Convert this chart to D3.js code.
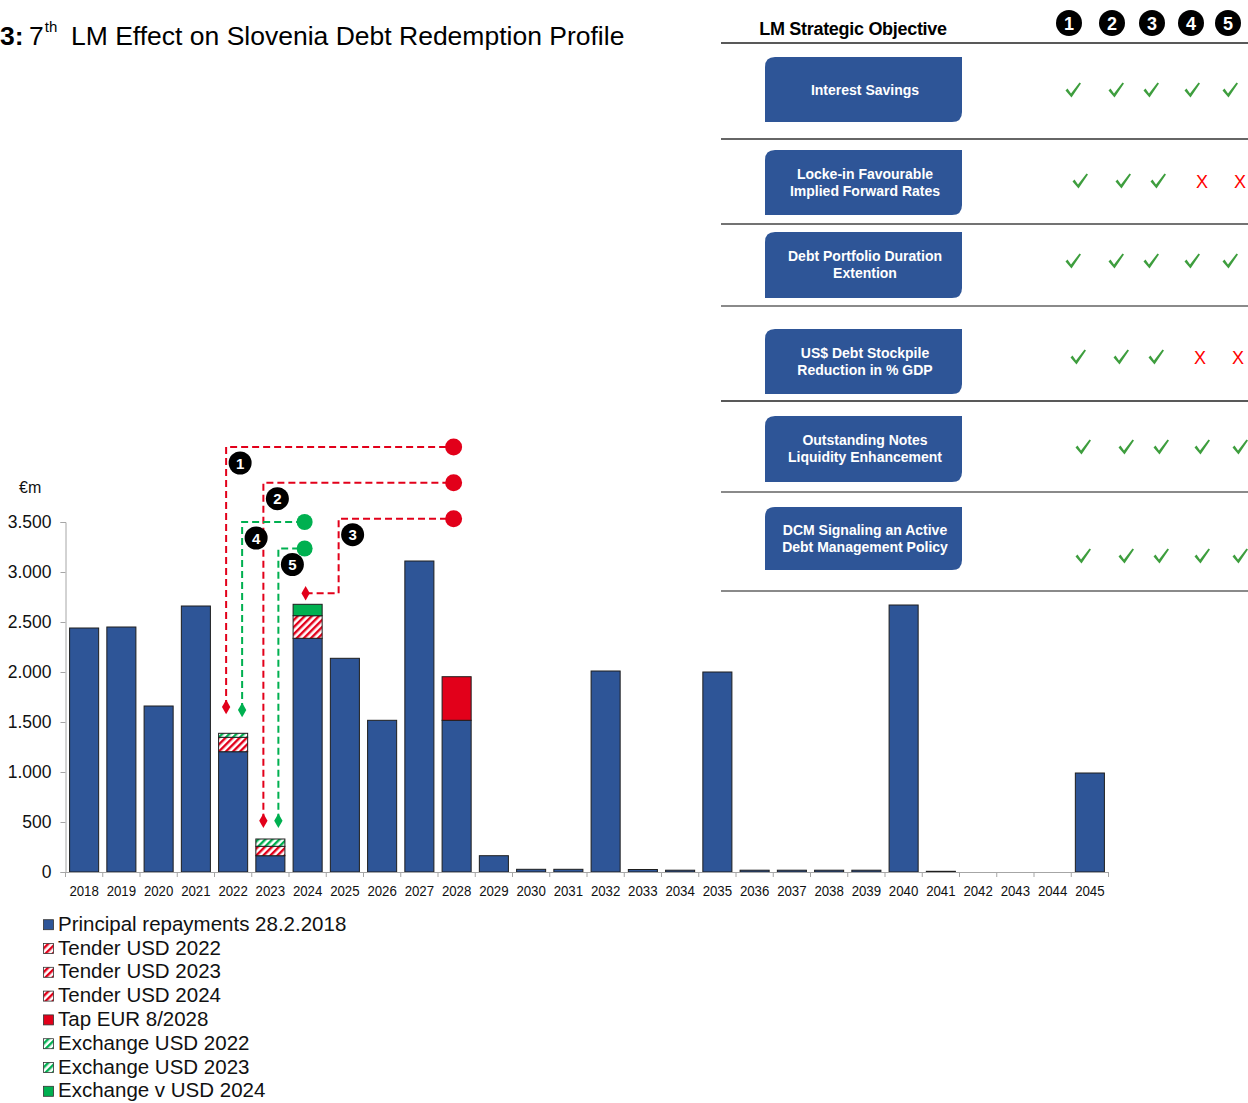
<!DOCTYPE html>
<html>
<head>
<meta charset="utf-8">
<title>7th LM Effect on Slovenia Debt Redemption Profile</title>
<script src="https://d3js.org/d3.v7.min.js"></script>
<style>
  body { margin: 0; background: #fff; }
  svg { display: block; font-family: "Liberation Sans", Arial, sans-serif; }
</style>
</head>
<body>
<svg id="chart"></svg>
<script>
// ---- data (EUR m) ----
var years = ["2018","2019","2020","2021","2022","2023","2024","2025","2026","2027","2028","2029","2030","2031",
             "2032","2033","2034","2035","2036","2037","2038","2039","2040","2041","2042","2043","2044","2045"];
var principal    = [2440,2450,1660,2660,1203,163,2337,2137,1517,3110,1517,163,27,27,2010,25,18,2000,18,18,18,18,2670,7,0,0,0,990];
var tender2022   = [0,0,0,0,144,0,0,0,0,0,0,0,0,0,0,0,0,0,0,0,0,0,0,0,0,0,0,0];
var tender2023   = [0,0,0,0,0,94,0,0,0,0,0,0,0,0,0,0,0,0,0,0,0,0,0,0,0,0,0,0];
var tender2024   = [0,0,0,0,0,0,226,0,0,0,0,0,0,0,0,0,0,0,0,0,0,0,0,0,0,0,0,0];
var tapEur2028   = [0,0,0,0,0,0,0,0,0,0,436,0,0,0,0,0,0,0,0,0,0,0,0,0,0,0,0,0];
var exchange2022 = [0,0,0,0,40,0,0,0,0,0,0,0,0,0,0,0,0,0,0,0,0,0,0,0,0,0,0,0];
var exchange2023 = [0,0,0,0,0,73,0,0,0,0,0,0,0,0,0,0,0,0,0,0,0,0,0,0,0,0,0,0];
var exchange2024 = [0,0,0,0,0,0,114,0,0,0,0,0,0,0,0,0,0,0,0,0,0,0,0,0,0,0,0,0];
var seriesNames  = ["Principal repayments 28.2.2018","Tender USD 2022","Tender USD 2023","Tender USD 2024",
                    "Tap EUR 8/2028","Exchange USD 2022","Exchange USD 2023","Exchange v USD 2024"];
var seriesValues = [principal, tender2022, tender2023, tender2024, tapEur2028, exchange2022, exchange2023, exchange2024];
var yTicks = [0,500,1000,1500,2000,2500,3000,3500];

// LM operations 1..5: from which maturity, to which bond, marker level / connector level
var lmLabels  = ["1","2","3","4","5"];
var lmFrom    = ["2022","2023","2024","2022","2023"];
var lmTo      = ["2028","2028","2028","2024","2024"];
var lmStart   = [1650, 513, 2787, 1620, 513];
var lmLevel   = [4250, 3893, 3533, 3500, 3235];

var objectives = [["Interest Savings"],
                  ["Locke-in Favourable","Implied Forward Rates"],
                  ["Debt Portfolio Duration","Extention"],
                  ["US$ Debt Stockpile","Reduction in % GDP"],
                  ["Outstanding Notes","Liquidity Enhancement"],
                  ["DCM Signaling an Active","Debt Management Policy"]];
var objectiveMet = [[1,1,1,1,1],[1,1,1,0,0],[1,1,1,1,1],[1,1,1,0,0],[1,1,1,1,1],[1,1,1,1,1]];

// ---- layout ----
var W = 1248, H = 1103;
var blue = "#2E5597", red = "#E2001A", green = "#00B050";
var seriesFill = [blue, "url(#hatchRed)", "url(#hatchRed)", "url(#hatchRed)", red, "url(#hatchGreen)", "url(#hatchGreen)", green];

var svg = d3.select("#chart").attr("width", W).attr("height", H);
var defs = svg.append("defs");

function hatch(id, col) {
  var p = defs.append("pattern").attr("id", id)
    .attr("patternUnits", "userSpaceOnUse")
    .attr("width", 5).attr("height", 5)
    .attr("patternTransform", "rotate(45)");
  p.append("rect").attr("width", 5).attr("height", 5).attr("fill", "#fff");
  p.append("rect").attr("width", 2.4).attr("height", 5).attr("fill", col);
}
hatch("hatchRed", red);
hatch("hatchGreen", green);

var x = d3.scaleBand().domain(years).range([65.5, 1108.5]).paddingInner(0.22).paddingOuter(0.11);
var y = d3.scaleLinear().domain([0, 3500]).range([872, 522]);
var cx = function(yr) { return x(yr) + x.bandwidth() / 2; };

// title
var title = svg.append("text").attr("x", 0).attr("y", 45).attr("font-size", 26.5).attr("fill", "#000");
title.append("tspan").attr("font-weight", "bold").text("3:");
title.append("tspan").attr("x", 29).text("7");
title.append("tspan").attr("font-size", 15).attr("dy", -13).attr("dx", 1).text("th");
title.append("tspan").attr("dy", 13).attr("x", 71).text("LM Effect on Slovenia Debt Redemption Profile");

// bars
var stacked = d3.stack()
  .keys(d3.range(seriesValues.length))
  .value(function(i, k) { return seriesValues[k][i]; })(d3.range(years.length));

svg.append("g").selectAll("g")
  .data(stacked)
  .join("g")
  .attr("fill", function(d) { return seriesFill[d.key]; })
  .selectAll("rect")
  .data(function(d) { return d.filter(function(s) { return s[1] - s[0] > 0; }); })
  .join("rect")
  .attr("x", function(s) { return x(years[s.data]); })
  .attr("y", function(s) { return y(s[1]); })
  .attr("width", x.bandwidth())
  .attr("height", function(s) { return y(s[0]) - y(s[1]); })
  .attr("stroke", "#1e1e1e")
  .attr("stroke-width", 1);

// axes
var yAxis = svg.append("g").attr("transform", "translate(65.5,0)")
  .call(d3.axisLeft(y).tickValues(yTicks).tickSize(5).tickPadding(9)
    .tickFormat(function(d) { return d3.format(",")(d).replace(",", "."); }));
yAxis.selectAll("path, line").attr("stroke", "#a6a6a6");
yAxis.selectAll("text").attr("font-size", 17.5).attr("fill", "#111").attr("font-family", "Liberation Sans, Arial, sans-serif");

var xAxis = svg.append("g").attr("transform", "translate(0,872)")
  .call(d3.axisBottom(x).tickSize(0).tickSizeOuter(0).tickPadding(13));
xAxis.select(".domain").attr("stroke", "#a6a6a6");
xAxis.selectAll("text").attr("font-size", 15.5).attr("fill", "#111")
  .attr("font-family", "Liberation Sans, Arial, sans-serif")
  .attr("textLength", 29.5).attr("lengthAdjust", "spacingAndGlyphs");
xAxis.selectAll(".bound").data(years.concat(["end"])).join("line")
  .attr("x1", function(d, i) { return x.range()[0] + i * x.step(); })
  .attr("x2", function(d, i) { return x.range()[0] + i * x.step(); })
  .attr("y1", 0).attr("y2", 5).attr("stroke", "#a6a6a6");

svg.append("text").attr("x", 19).attr("y", 493).attr("font-size", 16).attr("fill", "#111").text("€m");

// LM connectors
var riserDx   = [-7, -7, 31, 9, 8];
var diamondDx = [-7, -7, -2, 9, 8];
var ann = svg.append("g");
lmLabels.forEach(function(lab, i) {
  var col = i < 3 ? red : green;
  var x0 = cx(lmFrom[i]) + diamondDx[i];
  var xr = cx(lmFrom[i]) + riserDx[i];
  var x1 = cx(lmTo[i]) - 3;
  var y0 = y(lmStart[i]), y1 = y(lmLevel[i]);
  ann.append("path")
    .attr("d", "M" + x0 + "," + y0 + "H" + xr + "V" + y1 + "H" + x1)
    .attr("fill", "none").attr("stroke", col).attr("stroke-width", 2).attr("stroke-dasharray", "7,4");
  ann.append("path").attr("d", d3.symbol(d3.symbolDiamond, 60)())
    .attr("transform", "translate(" + x0 + "," + y0 + ")").attr("fill", col);
  ann.append("circle").attr("cx", x1).attr("cy", y1).attr("r", i < 3 ? 8.5 : 8).attr("fill", col);
  ann.append("circle").attr("cx", xr + 14).attr("cy", y1 + 16).attr("r", 11.5).attr("fill", "#000");
  ann.append("text").attr("x", xr + 14).attr("y", y1 + 21.5).attr("text-anchor", "middle")
    .attr("font-size", 15).attr("font-weight", "bold").attr("fill", "#fff").text(lab);
});

// legend
var lg = svg.append("g").selectAll("g").data(seriesNames).join("g")
  .attr("transform", function(d, i) { return "translate(43," + (930.7 + i * 23.8) + ")"; });
lg.append("rect").attr("x", 0.5).attr("y", -11).attr("width", 10).attr("height", 10)
  .attr("fill", function(d, i) { return seriesFill[i]; })
  .attr("stroke", "#333").attr("stroke-width", 0.8);
lg.append("text").attr("x", 15).attr("font-size", 20.5).attr("fill", "#111").text(function(d) { return d; });

// objectives table
var tb = svg.append("g");
tb.append("text").attr("x", 853).attr("y", 35).attr("text-anchor", "middle")
  .attr("font-size", 18).attr("font-weight", "bold").attr("letter-spacing", -0.3).text("LM Strategic Objective");
tb.append("line").attr("x1", 721).attr("x2", W).attr("y1", 43).attr("y2", 43).attr("stroke", "#222").attr("stroke-width", 1.5);

var colX = [1069, 1112, 1152, 1191, 1228];
lmLabels.forEach(function(lab, j) {
  tb.append("circle").attr("cx", colX[j]).attr("cy", 23).attr("r", 13).attr("fill", "#000");
  tb.append("text").attr("x", colX[j]).attr("y", 29.5).attr("text-anchor", "middle")
    .attr("font-size", 18).attr("font-weight", "bold").attr("fill", "#fff").text(lab);
});

var boxTop  = [57, 150, 232, 329, 416, 507];
var boxH    = [65, 65, 66, 65, 66, 63];
var sepY    = [139, 224, 306, 401, 492, 591];
var sepCol  = ["#333", "#444", "#8a8a8a", "#222", "#8a8a8a", "#8a8a8a"];
var sepW    = [1.5, 1.5, 2, 1.5, 2, 2];
var markY   = [90, 181, 261, 357, 447, 556];
var rowDx   = [0, 7, 0, 5, 10, 10];
var markX   = [1073, 1116, 1151, 1192, 1230];

function boxPath(x0, y0, w, h, r) {
  return "M" + (x0 + r) + "," + y0 + "H" + (x0 + w) + "V" + (y0 + h - r) +
    "Q" + (x0 + w) + "," + (y0 + h) + " " + (x0 + w - r) + "," + (y0 + h) +
    "H" + x0 + "V" + (y0 + r) + "Q" + x0 + "," + y0 + " " + (x0 + r) + "," + y0 + "Z";
}

objectives.forEach(function(lines, i) {
  tb.append("line").attr("x1", 721).attr("x2", W).attr("y1", sepY[i]).attr("y2", sepY[i])
    .attr("stroke", sepCol[i]).attr("stroke-width", sepW[i]);
  tb.append("path").attr("d", boxPath(765, boxTop[i], 197, boxH[i], 10)).attr("fill", blue);
  var mid = boxTop[i] + boxH[i] / 2;
  lines.forEach(function(t, k) {
    var by = lines.length === 1 ? mid + 5 : mid - 4 + k * 17;
    tb.append("text").attr("x", 865).attr("y", by).attr("text-anchor", "middle")
      .attr("font-size", 14).attr("font-weight", "bold").attr("fill", "#fff").text(t);
  });
  objectiveMet[i].forEach(function(ok, j) {
    var mx = markX[j] + rowDx[i] + (j >= 3 && !ok ? 3 : 0);
    if (ok) {
      tb.append("path").attr("d", "M-7.5,0.5 L-5.5,-1.5 L-2,3.5 L6.5,-7.5 L8,-6.5 L-1.5,7.5 Z")
        .attr("transform", "translate(" + mx + "," + markY[i] + ")").attr("fill", "#3E9E3E");
    } else {
      tb.append("text").attr("x", mx).attr("y", markY[i] + 6.5).attr("text-anchor", "middle")
        .attr("font-size", 18).attr("fill", "#ff0000").text("X");
    }
  });
});
</script>
</body>
</html>
